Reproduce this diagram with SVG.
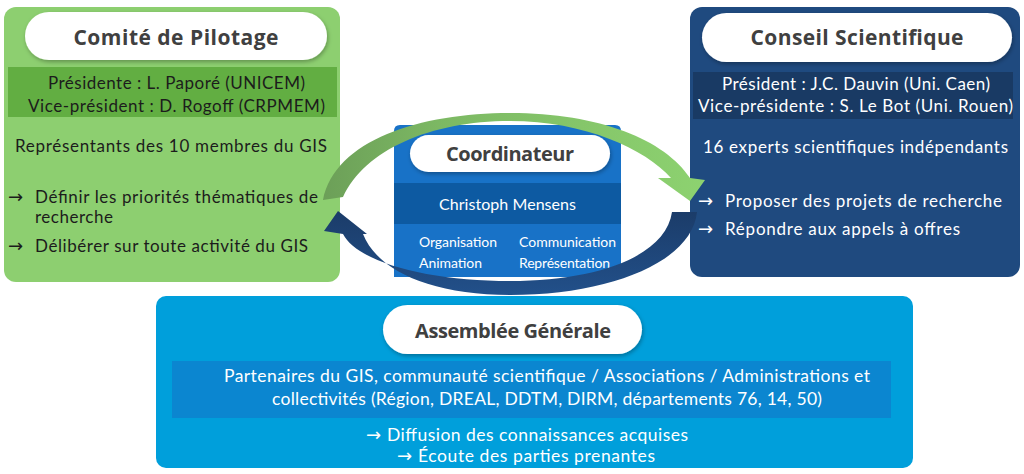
<svg xmlns="http://www.w3.org/2000/svg" width="1024" height="474" viewBox="0 0 1024 474">
<defs>
<style>
text{font-family:Lato,"Open Sans","DejaVu Sans",sans-serif;}
.title{font-family:"Open Sans","Noto Sans",sans-serif;font-weight:bold;fill:#404040;text-anchor:middle;font-size:21px;}
.dk{fill:#1c1c1c;font-size:17px;}
.wt{fill:#ffffff;font-size:17px;}
.mid{text-anchor:middle;}
text.ar{font-family:"DejaVu Sans",sans-serif;font-size:18px;}
text.t20{font-size:20px;}
text.s16{font-size:16px;}
text.s14{font-size:14px;}
text.s175{font-size:17.5px;}
.pill{fill:#ffffff;filter:url(#sh);}
</style>
<filter id="sh" x="-10%" y="-30%" width="120%" height="160%">
<feDropShadow dx="1" dy="2" stdDeviation="2" flood-color="#000" flood-opacity="0.3"/>
</filter>
<linearGradient id="gg" x1="323" y1="0" x2="705" y2="0" gradientUnits="userSpaceOnUse">
<stop offset="0" stop-color="#6c9f58"/>
<stop offset="0.3" stop-color="#7cb863"/>
<stop offset="1" stop-color="#8dd270"/>
</linearGradient>
<linearGradient id="bg" x1="0" y1="212" x2="0" y2="295" gradientUnits="userSpaceOnUse">
<stop offset="0" stop-color="#1b3c69"/>
<stop offset="1" stop-color="#22508a"/>
</linearGradient>
</defs>

<g id="comite">
<rect x="4" y="7" width="336" height="275" rx="12" fill="#8dcf70"/>
<rect x="25" y="12" width="302" height="48" rx="24" class="pill"/>
<text x="176" y="45" class="title" textLength="205">Comité de Pilotage</text>
<rect x="8" y="67" width="329" height="50" fill="#62ae42"/>
<text x="176.5" y="89" class="dk mid" textLength="257">Présidente : L. Paporé (UNICEM)</text>
<text x="176.5" y="112" class="dk mid" textLength="297">Vice-président : D. Rogoff (CRPMEM)</text>
<text x="171" y="152" class="dk mid" textLength="312">Représentants des 10 membres du GIS</text>
<text x="8" y="203" class="dk ar">→</text>
<text x="35" y="203" class="dk" textLength="283">Définir les priorités thématiques de</text>
<text x="35" y="223" class="dk" textLength="78">recherche</text>
<text x="8" y="252" class="dk ar">→</text>
<text x="35" y="252" class="dk" textLength="273">Délibérer sur toute activité du GIS</text>
</g>

<g id="conseil">
<rect x="690" y="7" width="330" height="270" rx="12" fill="#1f4a7f"/>
<rect x="702" y="13" width="310" height="49" rx="24.5" class="pill"/>
<text x="857" y="45" class="title" textLength="213">Conseil Scientifique</text>
<rect x="693" y="72" width="320" height="47" fill="#193a64"/>
<text x="856" y="90" class="wt mid" textLength="268">Président : J.C. Dauvin (Uni. Caen)</text>
<text x="855.5" y="112" class="wt mid" textLength="315">Vice-présidente : S. Le Bot (Uni. Rouen)</text>
<text x="855.5" y="153" class="wt mid" textLength="305">16 experts scientifiques indépendants</text>
<text x="698" y="207" class="wt ar">→</text>
<text x="725" y="207" class="wt" textLength="277">Proposer des projets de recherche</text>
<text x="698" y="235" class="wt ar">→</text>
<text x="725" y="235" class="wt" textLength="235">Répondre aux appels à offres</text>
</g>

<g id="coordinateur">
<path d="M394,131 Q394,125 400,125 L615,125 Q621,125 621,131 L621,277 L394,277 Z" fill="#1872c7"/>
<rect x="410" y="135" width="200" height="37" rx="18.5" class="pill"/>
<text x="510" y="161" class="title t20" textLength="128">Coordinateur</text>
<rect x="394" y="183" width="227" height="41" fill="#0d5aa2"/>
<text x="507.5" y="210" class="wt mid s16" textLength="137">Christoph Mensens</text>
<text x="419" y="247" class="wt s14" textLength="78">Organisation</text>
<text x="519" y="247" class="wt s14" textLength="97">Communication</text>
<text x="419" y="268" class="wt s14" textLength="63">Animation</text>
<text x="519" y="268" class="wt s14" textLength="91">Représentation</text>
</g>

<g id="assemblee">
<rect x="156" y="296" width="757" height="172" rx="10" fill="#009fdb"/>
<rect x="383" y="305" width="259" height="49" rx="24.5" class="pill"/>
<text x="513" y="338" class="title t20" textLength="196">Assemblée Générale</text>
<rect x="172" y="361" width="719" height="57" fill="#0b86d0"/>
<text x="547" y="382" class="wt mid s175" textLength="646">Partenaires du GIS, communauté scientifique / Associations / Administrations et</text>
<text x="547" y="405" class="wt mid s175" textLength="550">collectivités (Région, DREAL, DDTM, DIRM, départements 76, 14, 50)</text>
<text x="366" y="441" class="wt ar">→</text>
<text x="387" y="441" class="wt s175" textLength="301">Diffusion des connaissances acquises</text>
<text x="397" y="462" class="wt ar">→</text>
<text x="418" y="462" class="wt s175" textLength="237">Écoute des parties prenantes</text>
</g>

<g id="connectors">
<path id="arrow-green" d="M323,200 C335,140 420,113 510,113 C600,113 665,140 690,178 L705,180 L690,201 L658,178 L671,178 C645,149 585,121 510,121 C430,121 365,150 343,197 Z" fill="url(#gg)"/>
<path id="arrow-blue" d="M697,212 C692,262 610,295 510,295 C430,295 377,270 363,234 L367,234 L338,211 L324,231 L343,234 C358,263 430,281 510,281 C600,281 666,255 672,212 Z" fill="url(#bg)"/>
</g>
</svg>
